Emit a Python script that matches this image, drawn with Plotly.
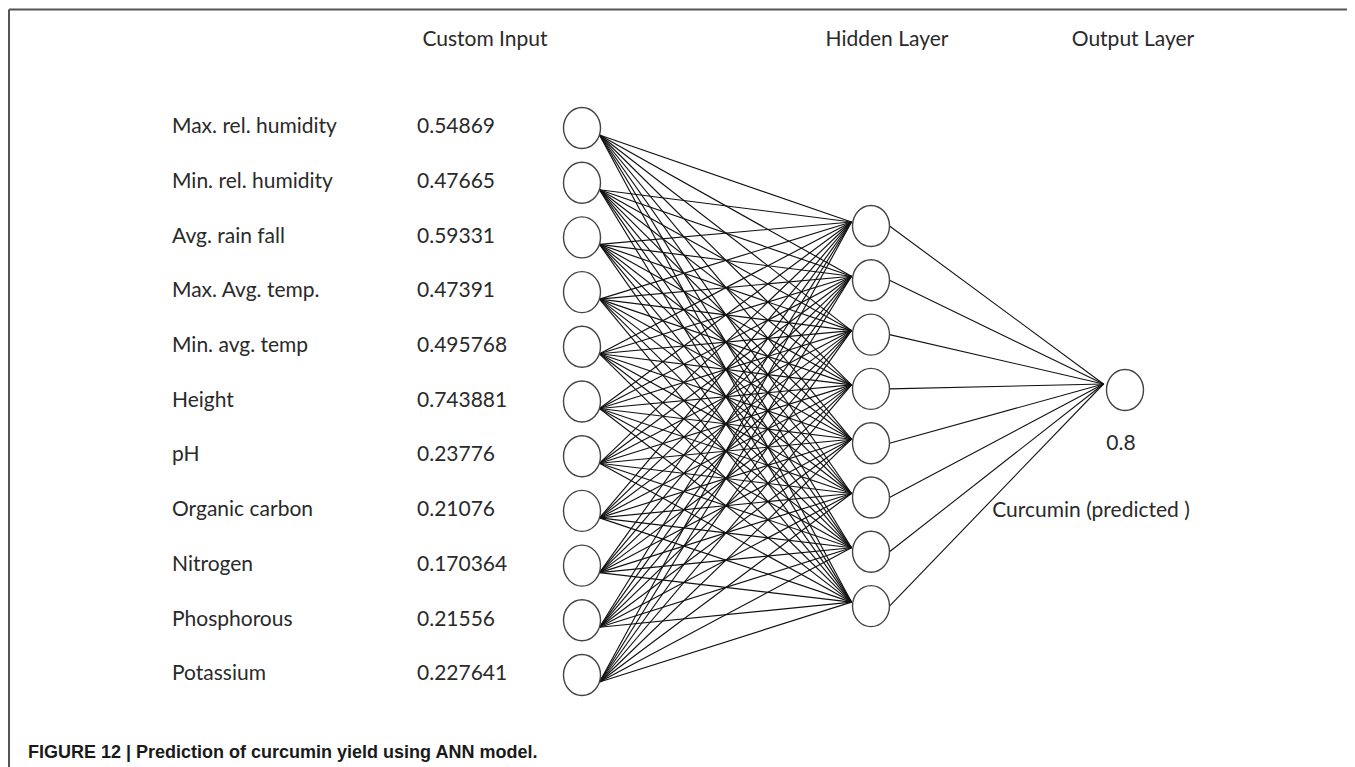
import plotly.graph_objects as go

# ---------------- data ----------------
input_labels = ["Max. rel. humidity", "Min. rel. humidity", "Avg. rain fall", "Max. Avg. temp.",
                "Min. avg. temp", "Height", "pH", "Organic carbon", "Nitrogen",
                "Phosphorous", "Potassium"]
input_values = ["0.54869", "0.47665", "0.59331", "0.47391", "0.495768", "0.743881",
                "0.23776", "0.21076", "0.170364", "0.21556", "0.227641"]
n_hidden = 8
output_value = "0.8"
output_label = "Curcumin (predicted )"
headers = ["Custom Input", "Hidden Layer", "Output Layer"]
caption = "FIGURE 12 | Prediction of curcumin yield using ANN model."

# ---------------- layout constants (screen pixels) ----------------
W, H = 1355, 767
OFF = 8  # page body margin
IN_X, IN_Y0, IN_DY = 582, 128, 54.7
HID_X, HID_Y0, HID_DY = 871, 226, 54.3
OUT_X, OUT_Y = 1125, 390
RX, RY = 18.5, 20.5
LABEL_X, VALUE_X = 172, 417
FONT = "Lato, 'Open Sans', sans-serif"
TXT = "#2a2a2a"
FS = 21

in_y = [IN_Y0 + i * IN_DY for i in range(len(input_labels))]
hid_y = [HID_Y0 + j * HID_DY for j in range(n_hidden)]

fig = go.Figure()

# input -> hidden connections
xs, ys = [], []
for yi in in_y:
    for yh in hid_y:
        xs += [IN_X + RX - 1, HID_X - RX - 1, None]
        ys += [yi + 7, yh - 4, None]
fig.add_trace(go.Scatter(x=xs, y=ys, mode="lines", line=dict(color="#111", width=1.15),
                         hoverinfo="skip", showlegend=False))

# hidden -> output connections
xs, ys = [], []
for yh in hid_y:
    xs += [HID_X + RX, OUT_X - RX - 3, None]
    ys += [yh, OUT_Y - 6, None]
fig.add_trace(go.Scatter(x=xs, y=ys, mode="lines", line=dict(color="#111", width=1.1),
                         hoverinfo="skip", showlegend=False))

# nodes
shapes = []
def node(cx, cy):
    shapes.append(dict(type="circle", xref="x", yref="y", x0=cx - RX, x1=cx + RX,
                       y0=cy - RY, y1=cy + RY, line=dict(color="#444", width=1.4),
                       fillcolor="rgba(255,255,255,0)", layer="above"))
for yi in in_y:
    node(IN_X, yi)
for yh in hid_y:
    node(HID_X, yh)
node(OUT_X, OUT_Y)

# frame lines
shapes.append(dict(type="line", xref="x", yref="y", x0=9, x1=W + OFF, y0=9.5, y1=9.5,
                   line=dict(color="#555", width=2)))
shapes.append(dict(type="line", xref="x", yref="y", x0=9, x1=9, y0=9.5, y1=H + OFF,
                   line=dict(color="#555", width=2)))

# texts
fig.add_trace(go.Scatter(x=[LABEL_X] * len(input_labels), y=in_y, text=input_labels, mode="text",
                         textposition="middle right", textfont=dict(family=FONT, size=FS, color=TXT),
                         hoverinfo="skip", showlegend=False))
fig.add_trace(go.Scatter(x=[VALUE_X] * len(input_values), y=in_y, text=input_values, mode="text",
                         textposition="middle right", textfont=dict(family=FONT, size=FS, color=TXT),
                         hoverinfo="skip", showlegend=False))
fig.add_trace(go.Scatter(x=[485, 887, 1133], y=[41, 41, 41], text=headers, mode="text",
                         textposition="middle center", textfont=dict(family=FONT, size=FS, color=TXT),
                         hoverinfo="skip", showlegend=False))
fig.add_trace(go.Scatter(x=[1121, 1091], y=[445, 512], text=[output_value, output_label], mode="text",
                         textposition="middle center", textfont=dict(family=FONT, size=FS, color=TXT),
                         hoverinfo="skip", showlegend=False))

fig.add_annotation(x=26, y=752, xref="x", yref="y", text="<b>" + caption + "</b>", showarrow=False,
                   xanchor="left", yanchor="middle",
                   font=dict(family="'Liberation Sans', Arial, sans-serif", size=18, color="#1a1a1a"))

fig.update_layout(width=W, height=H, margin=dict(l=0, r=0, t=0, b=0),
                  paper_bgcolor="white", plot_bgcolor="white", shapes=shapes,
                  xaxis=dict(range=[OFF, W + OFF], visible=False, fixedrange=True),
                  yaxis=dict(range=[H + OFF, OFF], visible=False, fixedrange=True))

fig.write_html("out.html", config={"displayModeBar": False})
